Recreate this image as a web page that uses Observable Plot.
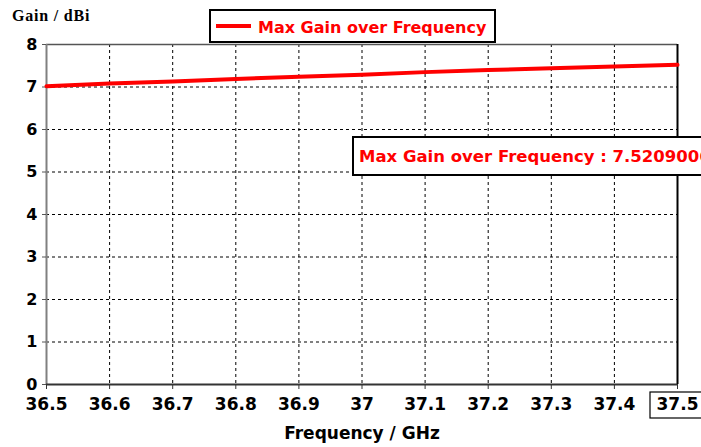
<!DOCTYPE html>
<html><head>
<meta charset="utf-8">
<script src="https://cdn.jsdelivr.net/npm/d3@7"></script>
<script src="https://cdn.jsdelivr.net/npm/@observablehq/plot@0.6"></script>
<style>
body{margin:0;background:#fff;}
#wrap{position:relative;width:701px;height:447px;overflow:hidden;}
</style>
</head><body><div id="wrap"></div>
<script>
const freq = [36.5, 36.6, 36.7, 36.8, 36.9, 37.0, 37.1, 37.2, 37.3, 37.4, 37.5];
const gain = [7.02, 7.08, 7.13, 7.19, 7.24, 7.29, 7.35, 7.40, 7.44, 7.48, 7.5209006];
const xTicks = [36.5, 36.6, 36.7, 36.8, 36.9, 37, 37.1, 37.2, 37.3, 37.4, 37.5];
const yTicks = [0, 1, 2, 3, 4, 5, 6, 7, 8];
const seriesName = "Max Gain over Frequency";
const markerLabel = "Max Gain over Frequency : 7.5209006";
const yLabel = "Gain / dBi";
const xLabel = "Frequency / GHz";

const data = freq.map((f, i) => ({f, g: gain[i]}));
const SANS = "'DejaVu Sans', Verdana, sans-serif";

const chart = Plot.plot({
  width: 701, height: 447,
  marginLeft: 46, marginRight: 24, marginTop: 44, marginBottom: 63,
  style: {background: "#fff", overflow: "visible"},
  x: {domain: [36.5, 37.5], ticks: xTicks},
  y: {domain: [0, 8], ticks: yTicks},
  marks: [
    Plot.gridX(xTicks.slice(1, -1), {stroke: "#000", strokeOpacity: 1, strokeDasharray: "3,3"}),
    Plot.gridY(yTicks.slice(1, -1), {stroke: "#000", strokeOpacity: 1, strokeDasharray: "3,3"}),
    Plot.ruleY([8], {stroke: "#555", strokeWidth: 1.5}),
    Plot.ruleX([37.5], {stroke: "#000", strokeWidth: 2}),
    Plot.ruleX([36.5], {stroke: "#808080", strokeWidth: 2}),
    Plot.ruleY([0], {stroke: "#333", strokeWidth: 2}),
    Plot.axisX({ticks: xTicks, tickSize: 5, tickPadding: 8, stroke: "#333", tickFormat: d => String(d),
      fontSize: 17, fontWeight: "bold", fontFamily: SANS, fill: "#000", label: null}),
    Plot.axisY({ticks: yTicks, tickSize: 4, tickPadding: 5, stroke: "#555", tickFormat: d => String(d),
      fontSize: 16, fontWeight: "bold", fontFamily: SANS, fill: "#000", label: null}),
    Plot.line(data, {x: "f", y: "g", stroke: "#ff0000", strokeWidth: 4})
  ]
});
document.getElementById("wrap").appendChild(chart);

const svg = d3.select(chart);
// Y axis title
svg.append("text").attr("x", 12).attr("y", 21).attr("text-anchor", "start").text(yLabel)
  .attr("font-family", "'Liberation Serif', serif").attr("font-weight", "bold").attr("font-size", 16)
  .attr("letter-spacing", 0.8).attr("fill", "#000");
// X axis title
svg.append("text").attr("x", 362).attr("y", 439).attr("text-anchor", "middle").text(xLabel)
  .attr("font-family", SANS).attr("font-weight", "bold").attr("font-size", 17).attr("fill", "#000");
// Box around last x tick
svg.append("rect").attr("x", 650).attr("y", 392).attr("width", 60).attr("height", 26)
  .attr("fill", "none").attr("stroke", "#000").attr("stroke-width", 1.2);
// Legend box
const lg = svg.append("g");
lg.append("rect").attr("x", 210).attr("y", 10).attr("width", 285).attr("height", 32)
  .attr("fill", "#fff").attr("stroke", "#000").attr("stroke-width", 2);
lg.append("line").attr("x1", 216).attr("x2", 251).attr("y1", 26).attr("y2", 26)
  .attr("stroke", "#ff0000").attr("stroke-width", 4);
lg.append("text").attr("x", 258).attr("y", 33).attr("text-anchor", "start").text(seriesName)
  .attr("font-family", SANS).attr("font-weight", "bold").attr("font-size", 16).attr("fill", "#ff0000");
// Marker annotation box
const mk = svg.append("g");
mk.append("rect").attr("x", 353).attr("y", 137).attr("width", 400).attr("height", 38)
  .attr("fill", "#fff").attr("stroke", "#000").attr("stroke-width", 2);
mk.append("text").attr("x", 359).attr("y", 162).attr("text-anchor", "start").text(markerLabel)
  .attr("font-family", SANS).attr("font-weight", "bold").attr("font-size", 16.5).attr("fill", "#ff0000");
</script>
</body></html>
